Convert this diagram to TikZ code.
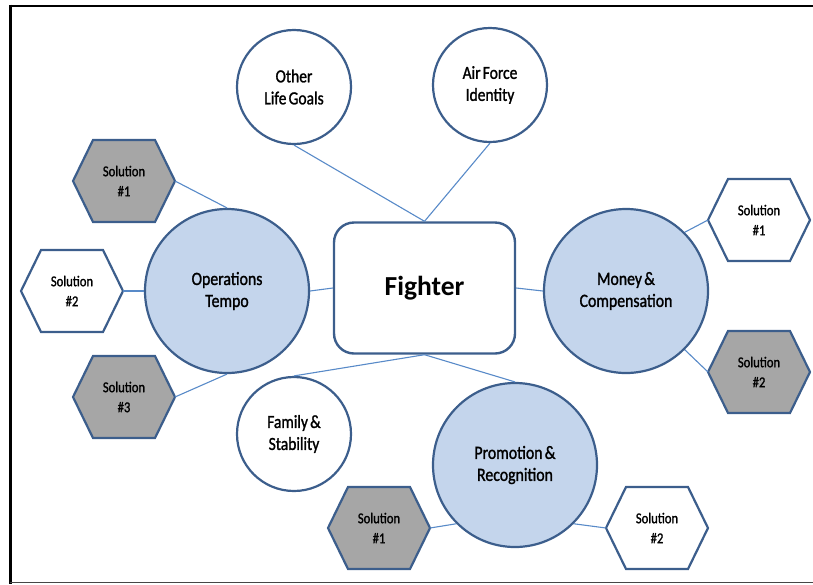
\documentclass[tikz,border=0pt]{standalone}
\usepackage{fontspec}
\setmainfont{Carlito}
\newfontfamily\cnd[FakeStretch=0.84,FakeBold=1.3,WordSpace=0.62]{Carlito}
\definecolor{edgeblue}{RGB}{60,94,140}
\definecolor{linkblue}{RGB}{88,138,200}
\definecolor{fillblue}{RGB}{196,213,236}
\definecolor{hexgray}{RGB}{166,166,166}
\definecolor{framegray}{RGB}{70,70,70}
\tikzset{
  bigcirc/.style={circle, draw=edgeblue, line width=2.2pt, fill=fillblue, minimum size=164pt, inner sep=0pt, align=center, font=\cnd\fontsize{18.8}{22}\selectfont},
  smallcirc/.style={circle, draw=edgeblue, line width=2.2pt, fill=white, minimum size=114pt, inner sep=0pt, align=center, font=\cnd\fontsize{18.5}{22}\selectfont},
  centerbox/.style={rectangle, rounded corners=20pt, draw=edgeblue, line width=2.4pt, fill=white, minimum width=181pt, minimum height=131pt, inner sep=0pt, font=\bfseries\fontsize{27.5}{30}\selectfont},
  hexline/.style={draw=edgeblue, line width=2.2pt, line join=miter},
  soltext/.style={inner sep=0pt, align=center, font=\cnd\fontsize{15}{20}\selectfont},
  link/.style={draw=linkblue, line width=1.1pt}
}
\newcommand{\hexat}[5]{%
  \draw[hexline, fill=#4] (#2+51,#3) -- (#2+31,#3+41) -- (#2-31,#3+41) -- (#2-51,#3) -- (#2-31,#3-41) -- (#2+31,#3-41) -- cycle;
  \node[soltext] (#1) at (#2,#3) {#5};
  \coordinate (#1-e) at (#2+51,#3);
  \coordinate (#1-w) at (#2-51,#3);
}
\begin{document}
\begin{tikzpicture}[x=1pt,y=-1pt]
\useasboundingbox (0,0) rectangle (813,584);
% frame
\draw[line width=2.7pt, black] (9,6) -- (813,6);
\draw[line width=2.7pt, black] (10.3,4.7) -- (10.3,584);
\draw[line width=1.5pt, framegray] (10,582.5) -- (813,582.5);
% nodes
\node[centerbox] (fighter) at (424.5,288) {Fighter};
\node[smallcirc] (other) at (294,87) {Other\\Life Goals};
\node[smallcirc] (airforce) at (490,85) {Air Force\\Identity};
\node[smallcirc] (family) at (294,434) {Family \&\\Stability};
\node[bigcirc] (ops) at (227,291) {Operations\\Tempo};
\node[bigcirc] (money) at (626,291) {Money \&\\Compensation};
\node[bigcirc] (promo) at (515,465) {Promotion \&\\Recognition};
\hexat{lh1}{124}{181}{hexgray}{Solution\\\#1}
\hexat{lh2}{72}{291}{white}{Solution\\\#2}
\hexat{lh3}{124}{397}{hexgray}{Solution\\\#3}
\hexat{rh1}{759}{220}{white}{Solution\\\#1}
\hexat{rh2}{759}{372}{hexgray}{Solution\\\#2}
\hexat{bh1}{379}{528}{hexgray}{Solution\\\#1}
\hexat{bh2}{657}{528}{white}{Solution\\\#2}
% connectors
\draw[link] (other.south) -- (fighter.north);
\draw[link] (airforce.south) -- (fighter.north);
\draw[link] (ops.east) -- (fighter.west);
\draw[link] (fighter.east) -- (money.west);
\draw[link] (family.north) -- (fighter.south);
\draw[link] (promo.north) -- (fighter.south);
\draw[link] (lh1-e) -- (ops.north);
\draw[link] (lh2-e) -- (ops.west);
\draw[link] (lh3-e) -- (ops.south);
\draw[link] (money.north east) -- (rh1-w);
\draw[link] (money.south east) -- (rh2-w);
\draw[link] (promo.south west) -- (bh1-e);
\draw[link] (promo.south east) -- (bh2-w);
\end{tikzpicture}
\end{document}
